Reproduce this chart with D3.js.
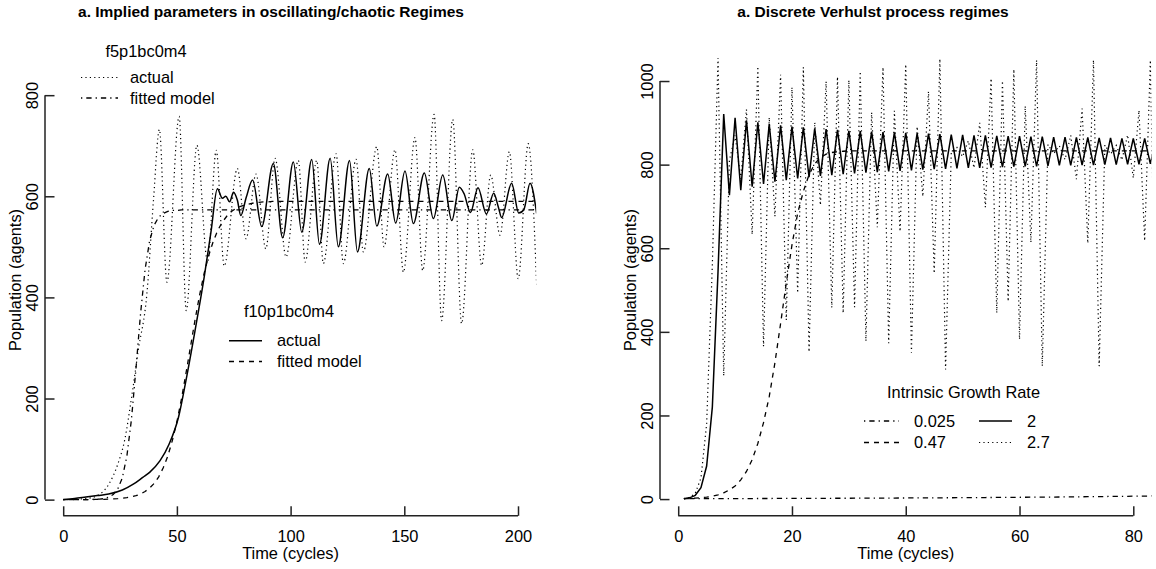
<!DOCTYPE html>
<html>
<head>
<meta charset="utf-8">
<title>Implied parameters / Verhulst regimes</title>
<script src="https://d3js.org/d3.v7.min.js"></script>
<style>
  body { margin: 0; background: #fff; }
  svg { display: block; font-family: "Liberation Sans", Arial, Helvetica, sans-serif; }
</style>
</head>
<body>
<svg id="chart" width="1156" height="569"></svg>
<script>
// ---- left panel: agent runs (peaks/troughs) ----
const f5Time = [0, 10, 15, 20, 24, 27, 30, 33, 36.8, 39.7, 42.3, 45.6, 51, 54.1, 58.8, 63.5, 67.3, 70.8, 76.6, 80.4,
  84.8, 89.1, 93.2, 98, 103.4, 106.4, 111.5, 114.4, 120, 123.2, 128.8, 132, 137.9, 141.1, 145.9, 149.6, 154.7, 158.1,
  163.1, 166.4, 171.3, 175.2, 180.1, 184, 188, 192.1, 196.2, 200.1, 204.5, 208.2];
const f5Actual = [0, 2, 8, 30, 70, 117, 200, 295, 407, 592, 732, 430, 758, 374, 701, 470, 691, 462, 655, 516,
  644, 496, 675, 480, 671, 470, 671, 467, 684, 467, 673, 490, 698, 500, 692, 450, 716, 453,
  762, 354, 752, 348, 692, 463, 642, 523, 688, 437, 704, 424];

const f10Time = [0, 5, 10, 15, 20, 26, 31, 35, 38, 42.6, 46.6, 50.7, 54, 58, 62, 65, 67.8, 70, 71.5, 73.2, 74.9,
  76.6, 78.1, 80.5, 83.3, 87.3, 92.4, 96.5, 101.2, 104.9, 109.3, 112.7, 117.4, 121, 125.9, 129.4, 134.6, 137.9,
  142.7, 146.2, 150.3, 154, 158.8, 162.8, 166.9, 170.9, 174.2, 176.3, 179.1, 182.4, 186.1, 189.3, 191.4, 192.8,
  197.2, 200.3, 202.6, 205.3, 208.2];
const f10Actual = [0, 2, 5, 8, 11, 19, 31, 44, 54, 77, 110, 163, 236, 335, 440, 530, 615, 596, 600, 589, 608,
  592, 562, 598, 632, 540, 665, 518, 668, 529, 673, 505, 675, 500, 671, 490, 655, 541,
  644, 547, 650, 546, 646, 556, 642, 552, 618, 605, 568, 617, 565, 606, 578, 558,
  626, 567, 574, 626, 566];

// fitted logistic curves, sampled on a common time grid
const fitTime = [0, 2, 4, 6, 8, 10, 12, 14, 16, 18, 20, 22, 24, 26, 28, 30, 32, 34, 36, 38, 40, 42, 44, 46, 48, 50,
  52, 54, 56, 58, 60, 62, 64, 66, 68, 70, 72, 74, 76, 78, 80, 82, 84, 86, 88, 90, 92, 94, 96, 98, 100,
  110, 120, 130, 140, 150, 160, 170, 180, 190, 200, 208];
const f5Fitted = [0, 0, 0, 0, 0, 0.1, 0.2, 0.5, 1, 2, 5, 10, 21, 43, 86, 158, 259, 367, 455, 512, 543, 559, 566, 570, 572, 572,
  573, 573, 573, 573, 573, 573, 573, 573, 573, 573, 573, 573, 573, 573, 573, 573, 573, 573, 573, 573, 573, 573, 573, 573, 573,
  573, 573, 573, 573, 573, 573, 573, 573, 573, 573, 573];
const f10Fitted = [0, 0, 0, 0.1, 0.1, 0.1, 0.2, 0.3, 0.4, 0.6, 0.9, 1.3, 1.8, 2.6, 3.8, 5.4, 7.8, 11, 16, 23, 32, 45, 63, 86, 117, 154,
  199, 250, 303, 356, 405, 448, 483, 511, 533, 549, 561, 570, 576, 580, 583, 585, 587, 588, 589, 589, 590, 590, 590, 590, 590,
  590, 590, 590, 590, 590, 590, 590, 590, 590, 590, 590];

// ---- right panel: discrete Verhulst, one value per cycle ----
const cycles = d3.range(1, 85);
const rate025 = [1.0, 1.0, 1.1, 1.1, 1.1, 1.1, 1.2, 1.2, 1.2, 1.2,
  1.3, 1.3, 1.3, 1.4, 1.4, 1.4, 1.5, 1.5, 1.6, 1.6,
  1.6, 1.7, 1.7, 1.8, 1.8, 1.9, 1.9, 2.0, 2.0, 2.0,
  2.1, 2.2, 2.2, 2.3, 2.3, 2.4, 2.4, 2.5, 2.6, 2.6,
  2.7, 2.7, 2.8, 2.9, 3.0, 3.0, 3.1, 3.2, 3.3, 3.3,
  3.4, 3.5, 3.6, 3.7, 3.8, 3.9, 4.0, 4.1, 4.2, 4.3,
  4.4, 4.5, 4.6, 4.7, 4.8, 4.9, 5.0, 5.2, 5.3, 5.4,
  5.6, 5.7, 5.8, 6.0, 6.1, 6.3, 6.4, 6.6, 6.7, 6.9,
  7.1, 7.2, 7.4, 7.6];
const rate047 = [1, 1.5, 2.2, 3.2, 4.7, 6.8, 10, 15, 22, 31,
  46, 66, 94, 133, 183, 245, 326, 420, 517, 608,
  684, 736, 776, 802, 817, 825, 829, 831, 832, 833,
  833, 833, 833, 833, 833, 833, 833, 833, 833, 833,
  833, 833, 833, 833, 833, 833, 833, 833, 833, 833,
  833, 833, 833, 833, 833, 833, 833, 833, 833, 833,
  833, 833, 833, 833, 833, 833, 833, 833, 833, 833,
  833, 833, 833, 833, 833, 833, 833, 833, 833, 833,
  833, 833, 833, 833];
const rate2 = [1, 3, 9, 27, 79, 220, 544, 921, 727, 912,
  739, 906, 747, 901, 754, 897, 759, 894, 763, 891,
  767, 889, 770, 887, 773, 885, 775, 883, 777, 881,
  779, 880, 781, 879, 782, 878, 784, 877, 785, 876,
  786, 875, 788, 874, 789, 873, 790, 872, 791, 871,
  792, 870, 792, 870, 793, 869, 794, 868, 795, 868,
  796, 867, 796, 867, 797, 866, 798, 866, 798, 865,
  799, 865, 799, 864, 800, 864, 800, 863, 801, 863,
  801, 863, 802, 862];
const rate27 = [1, 4, 14, 50, 180, 560, 1055, 295, 810, 870,
  766, 932, 633, 1035, 365, 913, 676, 1015, 428, 985,
  493, 1033, 352, 901, 703, 999, 458, 1010, 445, 1002,
  459, 1023, 378, 925, 650, 1033, 373, 929, 640, 1040,
  350, 891, 724, 975, 540, 1053, 310, 828, 841, 819,
  857, 792, 900, 698, 1006, 445, 1000, 473, 1028, 382,
  940, 614, 1050, 318, 848, 826, 845, 812, 870, 765,
  934, 612, 1050, 318, 847, 825, 846, 811, 871, 768,
  930, 618, 1050, 318];

const leftXTicks = [0, 50, 100, 150, 200];
const leftYTicks = [0, 200, 400, 600, 800];
const rightXTicks = [0, 20, 40, 60, 80];
const rightYTicks = [0, 200, 400, 600, 800, 1000];

// R-like line types
const lty = { solid: null, dashed: "5,5", dotted: "1.2,3.2", dotdash: "1.3,4,5.3,4" };
const lwd = { solid: 1.5, dashed: 1.3, dotted: 1.2, dotdash: 1.3 };

const svg = d3.select("#chart");
const FS = 16.4;

function styleLine(sel, type) {
  return sel.attr("fill", "none").attr("stroke", "#000")
    .attr("stroke-width", lwd[type]).attr("stroke-dasharray", lty[type]);
}

function drawPanel(p) {
  const g = svg.append("g");
  const x = d3.scaleLinear().domain(p.xDomain).range(p.xRange);
  const y = d3.scaleLinear().domain(p.yDomain).range(p.yRange);

  svg.append("clipPath").attr("id", p.id + "-clip").append("rect")
    .attr("x", p.xRange[0]).attr("y", 0)
    .attr("width", p.xRange[1] - p.xRange[0]).attr("height", 569);

  const plot = g.append("g").attr("clip-path", `url(#${p.id}-clip)`);
  p.series.forEach(s => {
    const line = d3.line()
      .x((d, i) => x(s.t[i]))
      .y(d => y(d))
      .curve(s.curve || d3.curveLinear);
    plot.append("path").datum(s.v).attr("d", line).call(styleLine, s.type);
  });

  const bottom = p.yRange[0];
  const left = p.xRange[0];
  const fmt = d3.format("d");

  // x axis: line between first and last tick, ticks pointing inward
  const xa = g.append("g").attr("transform", `translate(0,${bottom})`)
    .call(d3.axisBottom(x).tickValues(p.xTicks).tickFormat(fmt).tickSize(-9.5).tickSizeOuter(0));
  xa.select(".domain").remove();
  xa.append("line").attr("x1", x(p.xTicks[0])).attr("x2", x(p.xTicks[p.xTicks.length - 1]))
    .attr("stroke", "#222").attr("stroke-width", 1.5);
  xa.attr("font-size", null).attr("font-family", null);
  xa.selectAll(".tick line").attr("stroke", "#222").attr("stroke-width", 1.5);
  xa.selectAll(".tick text").attr("y", 26.5).attr("dy", null)
    .attr("fill", "#000").style("font-size", FS + "px");

  // y axis, rotated labels
  const ya = g.append("g").attr("transform", `translate(${left},0)`)
    .call(d3.axisLeft(y).tickValues(p.yTicks).tickFormat(fmt).tickSize(-9.5).tickSizeOuter(0));
  ya.select(".domain").remove();
  ya.append("line").attr("y1", y(p.yTicks[0])).attr("y2", y(p.yTicks[p.yTicks.length - 1]))
    .attr("stroke", "#222").attr("stroke-width", 1.5);
  ya.attr("font-size", null).attr("font-family", null);
  ya.selectAll(".tick line").attr("stroke", "#222").attr("stroke-width", 1.5);
  ya.selectAll(".tick text").attr("x", null).attr("dy", "0.36em")
    .attr("transform", "translate(-12.5,0) rotate(-90)")
    .attr("text-anchor", "middle").attr("fill", "#000").style("font-size", FS + "px");

  const mid = (p.xRange[0] + p.xRange[1]) / 2;
  g.append("text").attr("x", p.titleX).attr("y", 17).attr("text-anchor", "middle")
    .style("font-size", "15.5px").style("font-weight", "bold").text(p.title);
  g.append("text").attr("x", mid).attr("y", 558.5).attr("text-anchor", "middle")
    .style("font-size", FS + "px").text("Time (cycles)");
  g.append("text").attr("transform", `translate(${left - 29.3},280) rotate(-90)`)
    .attr("dy", "0.3em").attr("text-anchor", "middle")
    .style("font-size", FS + "px").text("Population (agents)");
  return g;
}

function legendRow(g, type, x1, x2, yMid, label, tx) {
  g.append("line").attr("x1", x1).attr("x2", x2).attr("y1", yMid).attr("y2", yMid).call(styleLine, type);
  g.append("text").attr("x", tx).attr("y", yMid + 5.6).style("font-size", FS + "px").text(label);
}
function legendTitle(g, cx, baseline, label) {
  g.append("text").attr("x", cx).attr("y", baseline).attr("text-anchor", "middle")
    .style("font-size", FS + "px").text(label);
}

// ---- left panel ----
const gl = drawPanel({
  id: "left",
  title: "a. Implied parameters in oscillating/chaotic Regimes",
  titleX: 271,
  xDomain: [-8, 208], xRange: [45, 536.2],
  yDomain: [-32, 832], yRange: [515.8, 79],
  xTicks: leftXTicks, yTicks: leftYTicks,
  series: [
    { t: fitTime, v: f5Fitted, type: "dotdash" },
    { t: fitTime, v: f10Fitted, type: "dashed" },
    { t: f5Time, v: f5Actual, type: "dotted", curve: d3.curveMonotoneX },
    { t: f10Time, v: f10Actual, type: "solid", curve: d3.curveMonotoneX }
  ]
});
legendTitle(gl, 146, 56.5, "f5p1bc0m4");
legendRow(gl, "dotted", 81, 118, 77.5, "actual", 130);
legendRow(gl, "dotdash", 81, 118, 98, "fitted model", 130);
legendTitle(gl, 289, 317, "f10p1bc0m4");
legendRow(gl, "solid", 229, 262, 340.8, "actual", 277);
legendRow(gl, "dashed", 229, 262, 361.5, "fitted model", 277);

// ---- right panel ----
const gr = drawPanel({
  id: "right",
  title: "a. Discrete Verhulst process regimes",
  titleX: 873,
  xDomain: [-3.2, 83.2], xRange: [660, 1151.5],
  yDomain: [-40, 1040], yRange: [515.8, 64.3],
  xTicks: rightXTicks, yTicks: rightYTicks,
  series: [
    { t: cycles, v: rate025, type: "dotdash" },
    { t: cycles, v: rate047, type: "dashed" },
    { t: cycles, v: rate27, type: "dotted" },
    { t: cycles, v: rate2, type: "solid" }
  ]
});
legendTitle(gr, 963.5, 397.5, "Intrinsic Growth Rate");
legendRow(gr, "dotdash", 864, 899, 421, "0.025", 914);
legendRow(gr, "dashed", 864, 899, 442.5, "0.47", 914);
legendRow(gr, "solid", 979, 1012, 421, "2", 1027);
legendRow(gr, "dotted", 979, 1012, 442.5, "2.7", 1027);
</script>
</body>
</html>
